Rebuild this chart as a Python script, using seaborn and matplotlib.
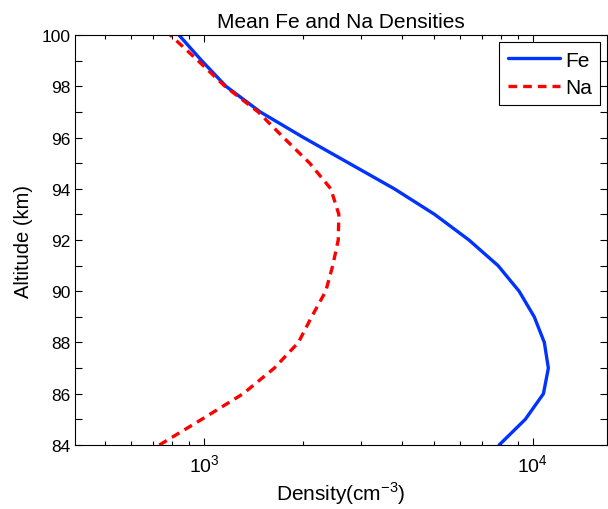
import numpy as np
import pandas as pd
import seaborn as sns
import matplotlib.pyplot as plt
from matplotlib.ticker import MultipleLocator, LogLocator, NullFormatter

# Altitude grid (km) and mean densities (cm^-3)
altitude = [84, 85, 86, 87, 88, 89, 90, 91, 92, 93, 94, 95, 96, 97, 98, 99, 100]
fe_density = [7910, 9500, 10790, 11170, 10860, 10120, 9100, 7850, 6400, 5030,
              3790, 2757, 2005, 1480, 1164, 982, 837]
na_density = [730, 982, 1313, 1634, 1935, 2123, 2344, 2462, 2559, 2570,
              2428, 2094, 1743, 1459, 1156, 957, 788]

df = pd.concat([
    pd.DataFrame({'density': fe_density, 'altitude': altitude, 'species': 'Fe'}),
    pd.DataFrame({'density': na_density, 'altitude': altitude, 'species': 'Na'}),
], ignore_index=True)

sns.set_style("ticks")
plt.rcParams['font.family'] = ['Liberation Sans', 'DejaVu Sans']
plt.rcParams['mathtext.fontset'] = 'custom'
plt.rcParams['mathtext.rm'] = 'Liberation Sans'
plt.rcParams['text.color'] = 'black'
plt.rcParams['axes.labelcolor'] = 'black'
plt.rcParams['xtick.labelcolor'] = 'black'
plt.rcParams['ytick.labelcolor'] = 'black'

fig = plt.figure(figsize=(6.08, 5.10), dpi=100)
ax = fig.add_axes([0.1234, 0.1255, 0.8756, 0.8039])

sns.lineplot(data=df, x='density', y='altitude', hue='species', style='species',
             orient='y', palette={'Fe': '#0033ff', 'Na': '#ff0000'},
             dashes={'Fe': '', 'Na': (2.6, 1.8)}, linewidth=2.4, ax=ax)

ax.set_xscale('log')
ax.set_xlim(404, 16900)
ax.set_ylim(84, 100)
ax.yaxis.set_major_locator(MultipleLocator(2))
ax.yaxis.set_minor_locator(MultipleLocator(1))
ax.xaxis.set_major_locator(LogLocator(base=10))
ax.xaxis.set_minor_locator(LogLocator(base=10, subs=np.arange(2, 10)))
ax.xaxis.set_minor_formatter(NullFormatter())

ax.tick_params(which='both', direction='in', top=True, right=True, labelsize=12.5,
               color='black', labelcolor='black', width=0.8)
ax.tick_params(which='major', length=5)
ax.tick_params(which='minor', length=3)
ax.tick_params(axis='y', which='minor', length=5)
ax.tick_params(axis='x', which='major', pad=6, labelsize=14)
for s in ax.spines.values():
    s.set_color('black')
    s.set_linewidth(0.8)

ax.set_title('Mean Fe and Na Densities', fontsize=15, pad=6, color='black')
ax.set_xlabel(r'Density(cm$^{-3}$)', fontsize=15, labelpad=3, color='black')
ax.set_ylabel('Altitude (km)', fontsize=14.5, labelpad=6, color='black')

leg = ax.legend(loc='upper right', fontsize=15, handlelength=2.5, fancybox=False,
                framealpha=1, edgecolor='black', borderaxespad=0.35,
                handletextpad=0.25, borderpad=0.4, labelspacing=0.4)
leg.get_frame().set_linewidth(0.8)
for t in leg.get_texts():
    t.set_color('black')

fig.savefig('out.png', dpi=100)
